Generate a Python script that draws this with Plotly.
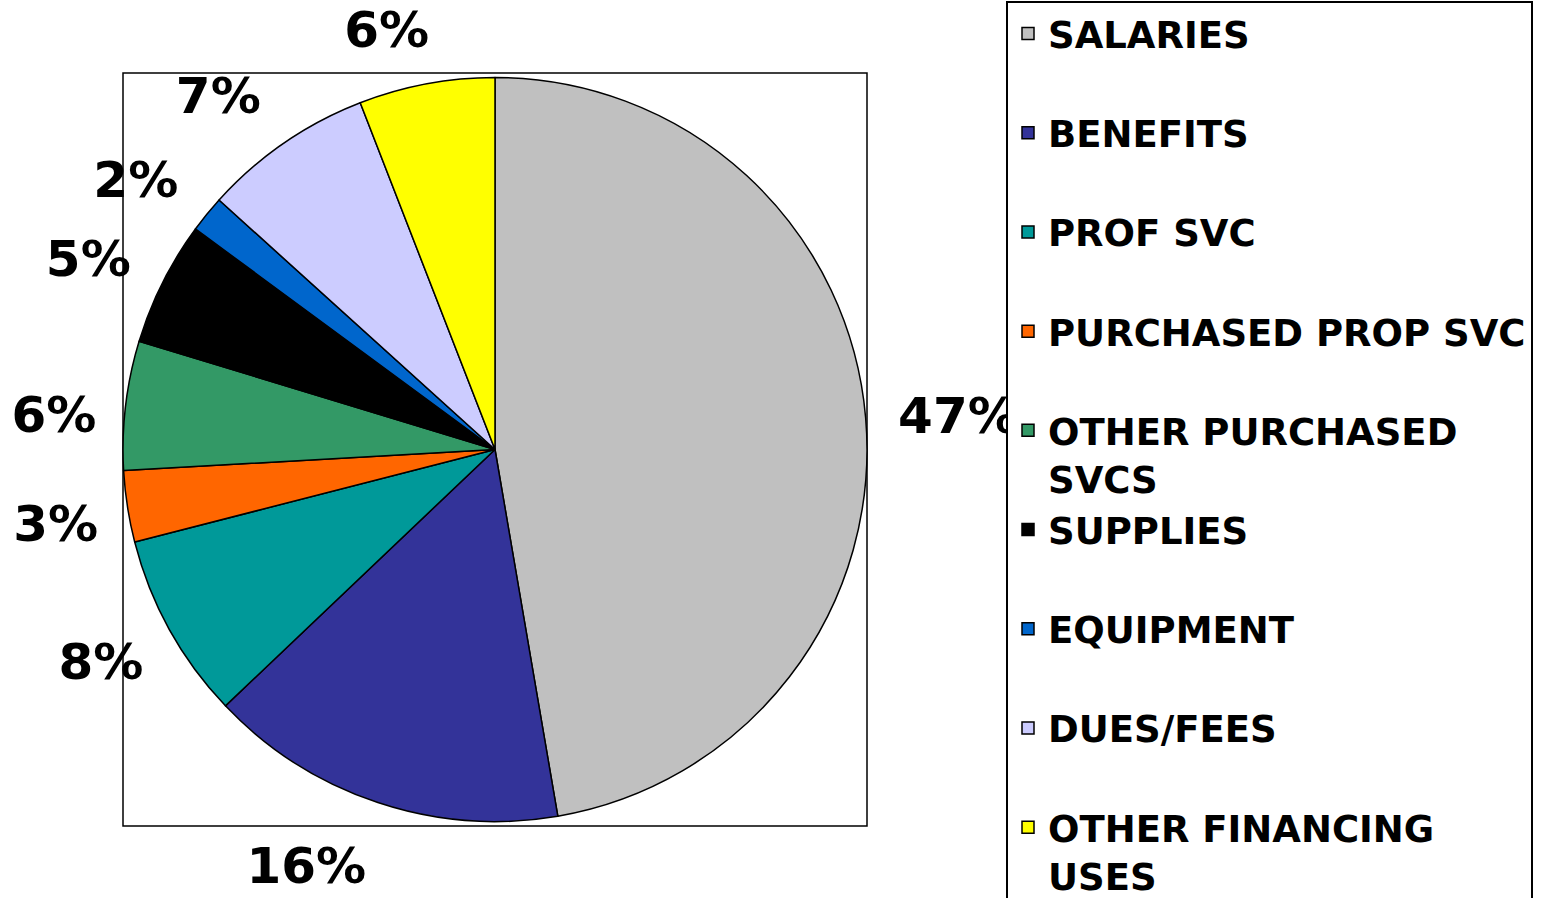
import plotly.graph_objects as go

categories = ["SALARIES", "BENEFITS", "PROF SVC", "PURCHASED PROP SVC",
              "OTHER PURCHASED SVCS", "SUPPLIES", "EQUIPMENT", "DUES/FEES",
              "OTHER FINANCING USES"]
legend_text = ["SALARIES<br> ", "BENEFITS<br> ", "PROF SVC<br> ", "PURCHASED PROP SVC<br> ",
               "OTHER PURCHASED<br>SVCS", "SUPPLIES<br> ", "EQUIPMENT<br> ", "DUES/FEES<br> ",
               "OTHER FINANCING<br>USES"]
values = [47.3, 15.6, 8.1, 3.1, 5.6, 5.4, 1.6, 7.4, 5.9]
colors = ["#C0C0C0", "#333399", "#009999", "#FF6600", "#339966",
          "#000000", "#0066CC", "#CCCCFF", "#FFFF00"]

W, H = 1558, 898
# plot-area box (pixels)
px0, px1, py0, py1 = 123, 867, 73, 826

# label rings: (categories shown, dx, dy, extra radius) -> layout of the outside percentages
label_rings = [
    (["SALARIES"], 0, 0, 18),
    (["BENEFITS", "PROF SVC", "PURCHASED PROP SVC", "OTHER PURCHASED SVCS"], 11, 13, 26),
    (["SUPPLIES", "EQUIPMENT", "DUES/FEES"], 6, -6, 26),
    (["OTHER FINANCING USES"], 22, 0, 26),
]


def dom(a0, a1, b0, b1):
    return dict(x=[a0 / W, a1 / W], y=[1 - b1 / H, 1 - b0 / H])


fig = go.Figure()

# visible pie
fig.add_trace(go.Pie(
    labels=legend_text,
    values=values,
    sort=False,
    direction="clockwise",
    rotation=0,
    marker=dict(colors=colors, line=dict(color="black", width=1.5)),
    textinfo="none",
    hoverinfo="skip",
    domain=dom(px0, px1, py0, py1),
))

# transparent twin pies carrying the outside percentage labels
for shown, dx, dy, ext in label_rings:
    fig.add_trace(go.Pie(
        labels=legend_text,
        values=values,
        sort=False,
        direction="clockwise",
        rotation=0,
        marker=dict(colors=["rgba(0,0,0,0)"] * len(values), line=dict(width=0)),
        textposition=["outside" if c in shown else "none" for c in categories],
        texttemplate="%{percent:.0%}",
        outsidetextfont=dict(family="DejaVu Sans", size=50, color="black", weight="bold"),
        hoverinfo="skip",
        showlegend=False,
        domain=dom(px0 - ext + dx, px1 + ext + dx, py0 - ext + dy, py1 + ext + dy),
    ))

fig.add_shape(type="rect", xref="paper", yref="paper",
              x0=px0 / W, x1=px1 / W, y0=1 - py1 / H, y1=1 - py0 / H,
              line=dict(color="black", width=1.5), layer="below")

legend = dict(
    x=1006 / W, xanchor="left",
    y=1 - 1 / H, yanchor="top",
    font=dict(family="DejaVu Sans", size=37, color="black", weight="bold"),
    bordercolor="black", borderwidth=2,
    bgcolor="white",
    valign="top",
    traceorder="normal",
)

fig.update_layout(
    width=W, height=H,
    margin=dict(l=0, r=0, t=0, b=0, autoexpand=False),
    paper_bgcolor="white",
    plot_bgcolor="white",
    font=dict(family="DejaVu Sans", color="black"),
    showlegend=True,
    legend=legend,
)

try:
    fig.update_layout(legend_maxheight=1200)
except Exception:
    pass
try:
    fig.update_layout(legend_entrywidth=505, legend_entrywidthmode="pixels")
except Exception:
    pass

fig.write_html("out.html", config={"displayModeBar": False},
               post_script="document.body.style.margin='0';")
